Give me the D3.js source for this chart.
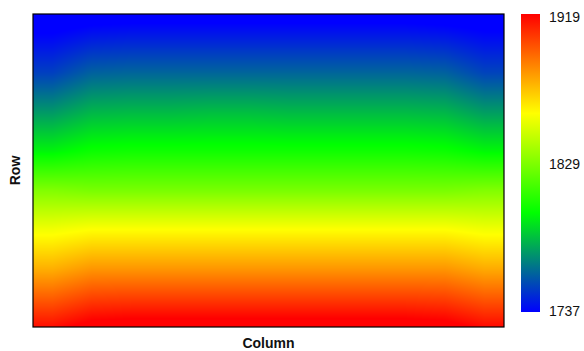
<!DOCTYPE html>
<html>
<head>
<meta charset="utf-8">
<script src="https://cdn.jsdelivr.net/npm/d3@7"></script>
<style>
  html, body { margin: 0; padding: 0; background: #fff; }
  svg { display: block; font-family: "Liberation Sans", Arial, sans-serif; }
</style>
</head>
<body>
<svg id="chart" width="584" height="351"></svg>
<script>
// ---------------- data ----------------
const rows = ["A", "B", "C", "D", "E", "F", "G", "H"];
const columns = [1, 2, 3, 4, 5, 6, 7, 8, 9, 10, 11, 12];
const rowA = [1737, 1741, 1742, 1742, 1742, 1742, 1742, 1742, 1742, 1742, 1741, 1738];
const rowB = [1752, 1760, 1761, 1761, 1761, 1761, 1761, 1761, 1761, 1761, 1760, 1753];
const rowC = [1773, 1780, 1781, 1781, 1782, 1782, 1781, 1781, 1781, 1781, 1780, 1774];
const rowD = [1795, 1800, 1801, 1801, 1801, 1801, 1801, 1801, 1801, 1801, 1800, 1796];
const rowE = [1828, 1826, 1826, 1826, 1826, 1826, 1826, 1826, 1826, 1826, 1826, 1828];
const rowF = [1855, 1858, 1858, 1858, 1858, 1858, 1858, 1858, 1858, 1858, 1858, 1855];
const rowG = [1877, 1883, 1883, 1883, 1883, 1883, 1883, 1883, 1883, 1883, 1883, 1878];
const rowH = [1903, 1910, 1911, 1911, 1911, 1911, 1911, 1911, 1911, 1911, 1910, 1904];
const legendTickLabels = ["1737", "1829", "1919"];
const colorStops = ["#0000ff", "#00ff00", "#ffff00", "#ff0000"];

// ---------------- layout ----------------
const grid = [rowA, rowB, rowC, rowD, rowE, rowF, rowG, rowH];
const plot = { left: 33, top: 14, right: 504, bottom: 327 };
const pw = plot.right - plot.left, ph = plot.bottom - plot.top;

const svg = d3.select("#chart");

const x = d3.scaleBand().domain(columns).range([plot.left, plot.right]);
const y = d3.scaleBand().domain(rows).range([plot.top, plot.bottom]);

const [vmin, vmax] = d3.extent(legendTickLabels, d => +d);
const color = d3.scaleLinear()
  .domain(d3.range(colorStops.length).map(i => vmin + (vmax - vmin) * i / (colorStops.length - 1)))
  .range(colorStops)
  .interpolate(d3.interpolateRgb)
  .clamp(true);

// Pixel -> fractional cell index (cell centres are the grid nodes)
const colIndex = d3.scaleLinear()
  .domain([x(columns[0]) + x.bandwidth() / 2, x(columns[columns.length - 1]) + x.bandwidth() / 2])
  .range([0, columns.length - 1]).clamp(true);
const rowIndex = d3.scaleLinear()
  .domain([y(rows[0]) + y.bandwidth() / 2, y(rows[rows.length - 1]) + y.bandwidth() / 2])
  .range([0, rows.length - 1]);

function valueAt(fx, fy) {
  const c0 = Math.min(Math.floor(fx), columns.length - 2);
  const r0 = Math.max(0, Math.min(Math.floor(fy), rows.length - 2));
  const c1 = c0 + 1, r1 = r0 + 1;
  const tx = fx - c0, ty = fy - r0;
  const a = grid[r0][c0] * (1 - tx) + grid[r0][c1] * tx;
  const b = grid[r1][c0] * (1 - tx) + grid[r1][c1] * tx;
  return a * (1 - ty) + b * ty;
}

// ---------------- heatmap raster ----------------
const canvas = document.createElement("canvas");
canvas.width = pw; canvas.height = ph;
const ctx = canvas.getContext("2d");
const img = ctx.createImageData(pw, ph);
for (let py = 0; py < ph; py++) {
  const fy = rowIndex(plot.top + py + 0.5);
  for (let px = 0; px < pw; px++) {
    const fx = colIndex(plot.left + px + 0.5);
    const c = d3.rgb(color(valueAt(fx, fy)));
    const k = (py * pw + px) * 4;
    img.data[k] = c.r; img.data[k + 1] = c.g; img.data[k + 2] = c.b; img.data[k + 3] = 255;
  }
}
ctx.putImageData(img, 0, 0);

svg.append("image")
  .attr("x", plot.left).attr("y", plot.top)
  .attr("width", pw).attr("height", ph)
  .attr("preserveAspectRatio", "none")
  .attr("href", canvas.toDataURL());

svg.append("rect")
  .attr("x", plot.left).attr("y", plot.top)
  .attr("width", pw).attr("height", ph)
  .attr("fill", "none").attr("stroke", "#000").attr("stroke-width", 1.2);

// ---------------- axis titles ----------------
svg.append("text")
  .attr("transform", `translate(15,${(plot.top + plot.bottom) / 2}) rotate(-90)`)
  .attr("text-anchor", "middle").attr("dy", "0.35em")
  .attr("font-size", 14).attr("font-weight", "bold").attr("fill", "#111")
  .text("Row");

svg.append("text")
  .attr("x", (plot.left + plot.right) / 2).attr("y", 348)
  .attr("text-anchor", "middle")
  .attr("font-size", 14).attr("font-weight", "bold").attr("fill", "#111")
  .text("Column");

// ---------------- colour legend ----------------
const legend = { x: 521, w: 19, top: 14, bottom: 312 };
const legendY = d3.scaleLinear().domain([vmin, vmax]).range([legend.bottom, legend.top]);

const defs = svg.append("defs");
const grad = defs.append("linearGradient").attr("id", "legendGrad")
  .attr("x1", 0).attr("y1", 1).attr("x2", 0).attr("y2", 0);
grad.selectAll("stop").data(color.domain()).join("stop")
  .attr("offset", d => (d - vmin) / (vmax - vmin))
  .attr("stop-color", d => color(d));

svg.append("rect")
  .attr("x", legend.x).attr("y", legendY(vmax))
  .attr("width", legend.w).attr("height", legendY(vmin) - legendY(vmax))
  .attr("fill", "url(#legendGrad)");

const tickPos = d3.scalePoint().domain(legendTickLabels).range([311, 17]);
svg.selectAll("text.ltick").data(legendTickLabels).join("text")
  .attr("class", "ltick")
  .attr("x", 549).attr("y", d => tickPos(d)).attr("dy", "0.36em")
  .attr("font-size", 14).attr("fill", "#111")
  .text(d => d);
</script>
</body>
</html>
